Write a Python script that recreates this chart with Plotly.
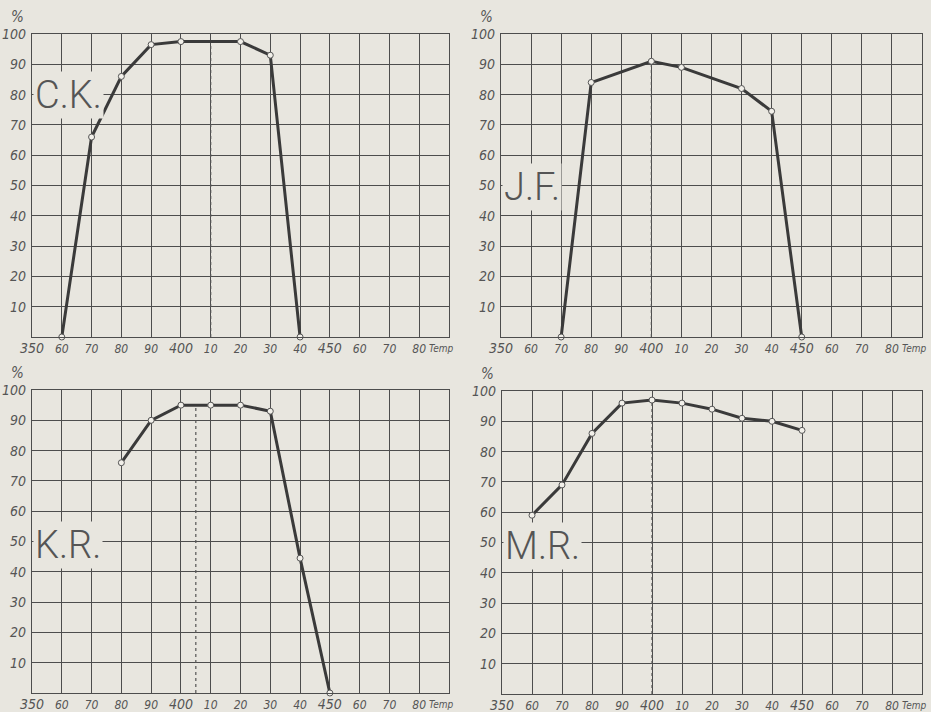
import plotly.graph_objects as go

# ---------------- data ----------------
x_ticks = [350, 360, 370, 380, 390, 400, 410, 420, 430, 440, 450, 460, 470, 480]
x_ticklabels = ["350", "60", "70", "80", "90", "400", "10", "20", "30", "40", "450", "60", "70", "80"]
x_unit = "Temp"
y_ticks = [10, 20, 30, 40, 50, 60, 70, 80, 90, 100]
y_ticklabels = ["10", "20", "30", "40", "50", "60", "70", "80", "90", "100"]

ck_temp = [360, 370, 380, 390, 400, 420, 430, 440]
ck_pct = [0, 66, 86, 96.5, 97.5, 97.5, 93, 0]

jf_temp = [370, 380, 400, 410, 430, 440, 450]
jf_pct = [0, 84, 91, 89, 82, 74.5, 0]

kr_temp = [380, 390, 400, 410, 420, 430, 440, 450]
kr_pct = [76, 90, 95, 95, 95, 93, 44.5, 0]

mr_temp = [360, 370, 380, 390, 400, 410, 420, 430, 440, 450]
mr_pct = [59, 69, 86, 96, 97, 96, 94, 91, 90, 87]

panel_names = ["C.K.", "J.F.", "K.R.", "M.R."]
dash_x = [410, 400, 405, 400]
dash_top = [97.5, 91, 95, 97]
label_y = [80, 49.5, 49, 49]

# ---------------- style ----------------
BG = "#e8e6df"
INK = "#4d4d4d"
LINE = "#3a3a3a"
FONT = "DejaVu Sans Condensed, Liberation Sans Narrow, DejaVu Sans, sans-serif"
LABEL_FONT = "Roboto, Lato, sans-serif"

domains = [
    ((32 / 931, 449 / 931), (1 - 337 / 712, 1 - 34 / 712)),
    ((501 / 931, 922 / 931), (1 - 337 / 712, 1 - 34 / 712)),
    ((32 / 931, 449 / 931), (1 - 693 / 712, 1 - 390 / 712)),
    ((502 / 931, 922 / 931), (1 - 694 / 712, 1 - 391 / 712)),
]

series = [(ck_temp, ck_pct), (jf_temp, jf_pct), (kr_temp, kr_pct), (mr_temp, mr_pct)]


def xlabel(t):
    if t in ("350", "400", "450"):
        return "<span style='font-size:14px'>%s</span>" % t
    return t


fig = go.Figure()
annotations = []
for i, (xt, yt) in enumerate(series):
    sx = "" if i == 0 else str(i + 1)
    xa, ya = "x" + sx, "y" + sx
    # dashed reference line
    fig.add_trace(go.Scatter(
        x=[dash_x[i], dash_x[i]], y=[0, dash_top[i]], xaxis=xa, yaxis=ya,
        mode="lines", line=dict(color="#555555", width=1.2, dash="dot"),
        showlegend=False, hoverinfo="skip"))
    fig.add_trace(go.Scatter(
        x=xt, y=yt, xaxis=xa, yaxis=ya, mode="lines+markers",
        line=dict(color=LINE, width=3),
        marker=dict(size=6, color="#f2f0ea", line=dict(color="#555555", width=1)),
        cliponaxis=False, showlegend=False, name=panel_names[i]))

    (dx, dy) = domains[i]
    fig.layout["xaxis" + sx] = dict(
        domain=list(dx), range=[350, 490], anchor=ya, automargin=False,
        tickvals=x_ticks, ticktext=[xlabel(t) for t in x_ticklabels],
        tickangle=0, showgrid=True, gridcolor=INK, gridwidth=1,
        showline=True, mirror=True, linecolor=INK, linewidth=1.3,
        zeroline=False, ticks="", fixedrange=True,
        tickfont=dict(family=FONT, size=12, color="#555555", style="italic"))
    fig.layout["yaxis" + sx] = dict(
        domain=list(dy), range=[0, 100], anchor=xa, automargin=False,
        tickvals=y_ticks, ticktext=y_ticklabels,
        showgrid=True, gridcolor=INK, gridwidth=1,
        showline=True, mirror=True, linecolor=INK, linewidth=1.3,
        zeroline=False, ticks="", fixedrange=True, ticklabelstandoff=2,
        tickfont=dict(family=FONT, size=14, color="#555555", style="italic"))
    # panel label (covers the grid behind it)
    annotations.append(dict(
        x=350, y=label_y[i], xref=xa, yref=ya, xanchor="left", yanchor="middle",
        text=panel_names[i], showarrow=False, bgcolor=BG, borderpad=1, xshift=1,
        font=dict(family=LABEL_FONT, size=38, color="#555555", weight=300)))
    # percent sign
    annotations.append(dict(
        x=350, y=100, xref=xa, yref=ya, xanchor="right", yanchor="bottom",
        text="%", showarrow=False, xshift=-6, yshift=6,
        font=dict(family=FONT, size=15, color="#555555", style="italic")))
    # unit label after last tick
    annotations.append(dict(
        x=483, y=0, xref=xa, yref=ya, xanchor="left", yanchor="top",
        text=x_unit, showarrow=False, yshift=-5, borderpad=0,
        font=dict(family=FONT, size=10, color="#555555", style="italic")))

fig.update_layout(
    width=931, height=712, margin=dict(l=0, r=0, t=0, b=0, autoexpand=False),
    paper_bgcolor=BG, plot_bgcolor=BG, annotations=annotations,
    showlegend=False)

fig.write_html("out.html", config={"displayModeBar": False})

# remove the browser's default page margin so the figure fills the window
with open("out.html", "r", encoding="utf-8") as f:
    html = f.read()
html = html.replace("<head>", "<head><style>html,body{margin:0;padding:0;background:%s;overflow:hidden}</style>" % BG, 1)
with open("out.html", "w", encoding="utf-8") as f:
    f.write(html)
